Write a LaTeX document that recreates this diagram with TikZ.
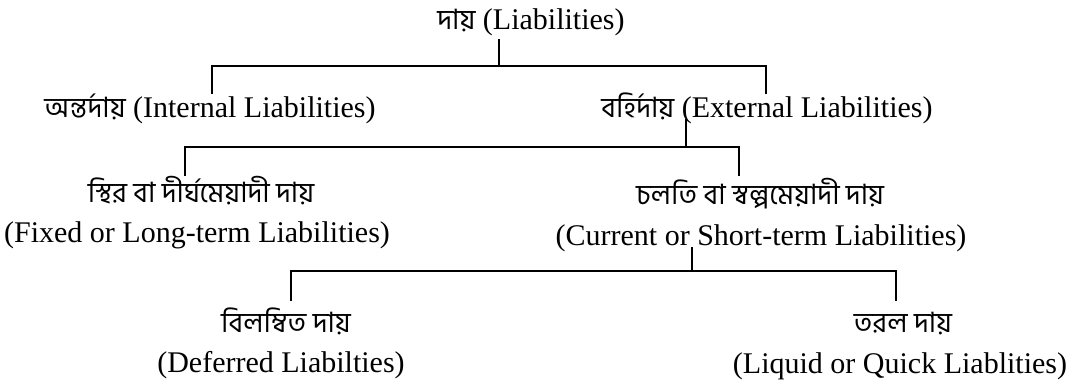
\documentclass[tikz,border=0pt]{standalone}
\usepackage{fontspec}
\setmainfont{Liberation Serif}
\newfontfamily\bn[Script=Bengali]{Hind Siliguri}
\tikzset{
  lbl/.style={anchor=base, inner sep=0pt, font=\fontsize{30}{36}\selectfont},
  bnlbl/.style={anchor=base, inner sep=0pt, font=\bn\fontsize{28}{33}\selectfont},
  link/.style={draw=black, line width=2.4pt, line cap=rect}
}
\begin{document}
\begin{tikzpicture}[x=1pt,y=-1pt]
\useasboundingbox[fill=white] (0,0) rectangle (1088,385);
% labels
\node[lbl] (root) at (531,30) {{\bn\fontsize{28}{33}\selectfont দায়} (Liabilities)};
\node[lbl] (int) at (210,118) {{\bn\fontsize{28}{33}\selectfont অন্তর্দায়} (Internal Liabilities)};
\node[lbl] (ext) at (767,118) {{\bn\fontsize{28}{33}\selectfont বহির্দায়} (External Liabilities)};
\node[bnlbl] (fixbn) at (201,203) {স্থির বা দীর্ঘমেয়াদী দায়};
\node[lbl] (fixen) at (197,243) {(Fixed or Long-term Liabilities)};
\node[bnlbl] (curbn) at (760,205) {চলতি বা স্বল্পমেয়াদী দায়};
\node[lbl] (curen) at (761,245) {(Current or Short-term Liabilities)};
\node[bnlbl] (defbn) at (286,332) {বিলম্বিত দায়};
\node[lbl] (defen) at (281,372) {(Deferred Liabilties)};
\node[bnlbl] (liqbn) at (903,332) {তরল দায়};
\node[lbl] (liqen) at (900,373) {(Liquid or Quick Liablities)};
% junction coordinates
\coordinate (rs) at (499,40);
\coordinate (rb) at (499,66);
\coordinate (it) at (212,93);
\coordinate (et) at (766,93);
\coordinate (es) at (686,120);
\coordinate (eb) at (686,147);
\coordinate (ft) at (185,175);
\coordinate (ct) at (739,175);
\coordinate (cs) at (692,248);
\coordinate (cb) at (692,271);
\coordinate (dt) at (291,300);
\coordinate (qt) at (896,300);
% connectors
\draw[link] (rs) -- (rb);
\draw[link] (it) -- (it |- rb) -- (et |- rb) -- (et);
\draw[link] (es) -- (eb);
\draw[link] (ft) -- (ft |- eb) -- (ct |- eb) -- (ct);
\draw[link] (cs) -- (cb);
\draw[link] (dt) -- (dt |- cb) -- (qt |- cb) -- (qt);
\end{tikzpicture}
\end{document}
